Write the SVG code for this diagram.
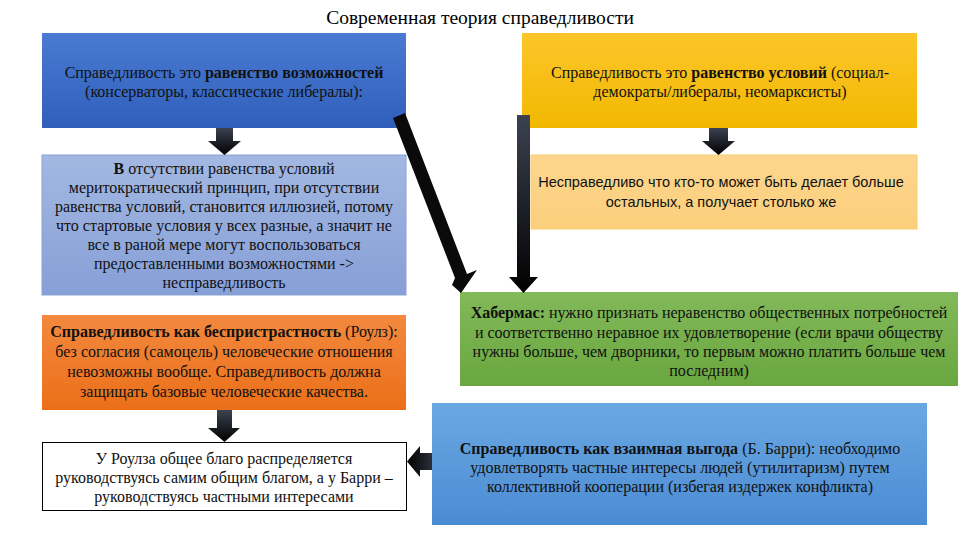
<svg xmlns="http://www.w3.org/2000/svg" width="960" height="540" viewBox="0 0 960 540" font-family="'Liberation Serif', 'DejaVu Serif', serif">
<defs>
<linearGradient id="gBlue" x1="0" y1="0" x2="0" y2="1"><stop offset="0" stop-color="#4a7bd2"/><stop offset="1" stop-color="#2f5fbb"/></linearGradient>
<linearGradient id="gYellow" x1="0" y1="0" x2="0" y2="1"><stop offset="0" stop-color="#fcc62a"/><stop offset="1" stop-color="#f2b800"/></linearGradient>
<linearGradient id="gLightBlue" x1="0" y1="0" x2="0" y2="1"><stop offset="0" stop-color="#a3b8e2"/><stop offset="1" stop-color="#869fd6"/></linearGradient>
<linearGradient id="gPeach" x1="0" y1="0" x2="0" y2="1"><stop offset="0" stop-color="#fdd68e"/><stop offset="1" stop-color="#fbcf7c"/></linearGradient>
<linearGradient id="gOrange" x1="0" y1="0" x2="0" y2="1"><stop offset="0" stop-color="#f3893f"/><stop offset="1" stop-color="#eb6f18"/></linearGradient>
<linearGradient id="gGreen" x1="0" y1="0" x2="0" y2="1"><stop offset="0" stop-color="#82b95a"/><stop offset="1" stop-color="#6aa73f"/></linearGradient>
<linearGradient id="gBlue2" x1="0" y1="0" x2="0" y2="1"><stop offset="0" stop-color="#6aa8e2"/><stop offset="1" stop-color="#4b8bd3"/></linearGradient>
<linearGradient id="gArrow" x1="0" y1="0" x2="0" y2="1"><stop offset="0" stop-color="#3c4250"/><stop offset="1" stop-color="#000"/></linearGradient>
<linearGradient id="gArrowH" x1="1" y1="0" x2="0" y2="0"><stop offset="0" stop-color="#2b2f38"/><stop offset="1" stop-color="#000"/></linearGradient>
</defs>
<style>
text{font-family:'Liberation Serif','DejaVu Serif',serif;font-size:16px;fill:#111;text-anchor:middle}
.title{font-size:19.5px;fill:#000}
.b{font-weight:bold}
.sans{font-family:'Liberation Sans',Arial,sans-serif;font-size:14.5px}
.arrow{fill:url(#gArrow)}
</style>
<text class="title" x="480" y="24">Современная теория справедливости</text>

<g id="n1">
<rect x="42" y="33" width="364" height="95" fill="url(#gBlue)"/>
<text x="224" y="78">Справедливость это <tspan class="b">равенство возможностей</tspan></text>
<text x="224" y="97">(консерваторы, классические либералы):</text>
</g>

<g id="n2">
<rect x="522" y="33" width="395" height="95" fill="url(#gYellow)"/>
<text x="720" y="78">Справедливость это <tspan class="b">равенство условий</tspan> (социал-</text>
<text x="720" y="97">демократы/либералы, неомарксисты)</text>
</g>

<g id="n3">
<rect x="42" y="155" width="364" height="140" fill="url(#gLightBlue)" stroke="#8aa2d4" stroke-width="1"/>
<text x="224" y="174"><tspan class="b">В</tspan> отсутствии равенства условий</text>
<text x="224" y="193">меритократический принцип, при отсутствии</text>
<text x="224" y="212">равенства условий, становится иллюзией, потому</text>
<text x="224" y="231">что стартовые условия у всех разные, а значит не</text>
<text x="224" y="250">все в раной мере могут воспользоваться</text>
<text x="224" y="269">предоставленными возможностями -&gt;</text>
<text x="224" y="288">несправедливость</text>
</g>

<g id="n4">
<rect x="531" y="155" width="386" height="74" fill="url(#gPeach)" stroke="#f5cd70" stroke-width="1"/>
<text class="sans" x="721" y="187">Несправедливо что кто-то может быть делает больше</text>
<text class="sans" x="721" y="207">остальных, а получает столько же</text>
</g>

<g id="n5">
<rect x="42" y="315" width="364" height="95" fill="url(#gOrange)"/>
<text x="224" y="337"><tspan class="b">Справедливость как беспристрастность</tspan> (Роулз):</text>
<text x="224" y="357">без согласия (самоцель) человеческие отношения</text>
<text x="224" y="377">невозможны вообще. Справедливость должна</text>
<text x="224" y="397">защищать базовые человеческие качества.</text>
</g>

<g id="n6">
<rect x="460" y="292" width="498" height="94" fill="url(#gGreen)"/>
<text x="709" y="318"><tspan class="b">Хабермас:</tspan> нужно признать неравенство общественных потребностей</text>
<text x="709" y="338">и соответственно неравное их удовлетворение (если врачи обществу</text>
<text x="709" y="357">нужны больше, чем дворники, то первым можно платить больше чем</text>
<text x="709" y="376">последним)</text>
</g>

<g id="n7">
<rect x="42.5" y="442.5" width="364" height="68" fill="#fff" stroke="#000" stroke-width="1"/>
<text x="224" y="464">У Роулза общее благо распределяется</text>
<text x="224" y="483">руководствуясь самим общим благом, а у Барри –</text>
<text x="224" y="502">руководствуясь частными интересами</text>
</g>

<g id="n8">
<rect x="432" y="403" width="495" height="122" fill="url(#gBlue2)"/>
<text x="680" y="454"><tspan class="b">Справедливость как взаимная выгода</tspan> (Б. Барри): необходимо</text>
<text x="680" y="473">удовлетворять частные интересы людей (утилитаризм) путем</text>
<text x="680" y="492">коллективной кооперации (избегая издержек конфликта)</text>
</g>

<g id="connectors">
<path class="arrow" d="M216,128 H233 V141 H241 L224.5,155 L208,141 H216 Z"/>
<path class="arrow" d="M709,128 H728 V141 H735 L718.5,155 L702,141 H709 Z"/>
<path class="arrow" d="M217,410 H232 V428 H240 L224.5,442 L208,428 H217 Z"/>
<path fill="url(#gArrowH)" d="M432,453 V470 H420 V477 L407,461.5 L420,446 V453 Z"/>
<path class="arrow" d="M517,115 H530 V277 H538 L523.5,293 L509,277 H517 Z"/>
<path fill="#0a0a0a" d="M393,118 L405,113 L467,274 L477,270 L461,293 L452,285 L455,278 Z"/>
</g>
</svg>
